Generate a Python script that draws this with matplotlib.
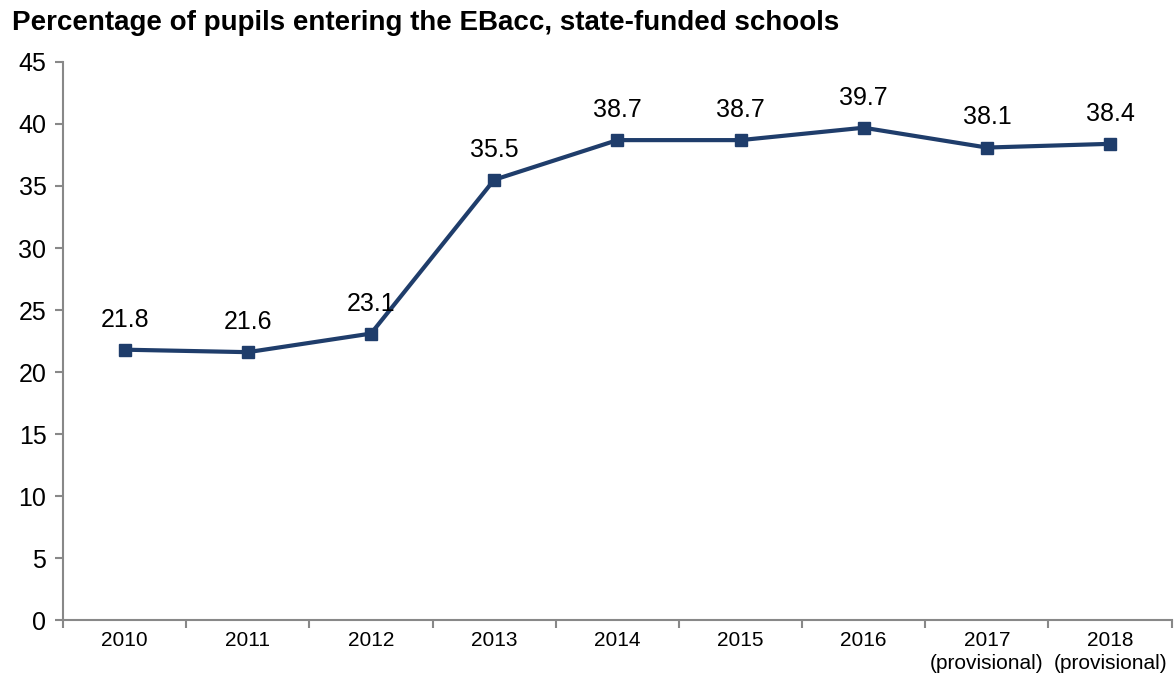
import numpy as np
import matplotlib.pyplot as plt

plt.rcParams['font.family'] = ['Liberation Sans', 'DejaVu Sans']

# EBacc entry rates, state-funded schools
years = ['2010', '2011', '2012', '2013', '2014', '2015', '2016',
         '2017\n(provisional)', '2018\n(provisional)']
pct_entering = [21.8, 21.6, 23.1, 35.5, 38.7, 38.7, 39.7, 38.1, 38.4]

line_col = '#1f3d6b'
axis_col = '#888888'

fig = plt.figure(figsize=(11.74, 6.76), dpi=100)
ax = fig.add_axes([0.0537, 0.0828, 0.9443, 0.8255])

x = np.arange(len(years))
ax.plot(x, pct_entering, color=line_col, lw=3, marker='s', ms=9,
        markerfacecolor=line_col, markeredgecolor=line_col, zorder=3)

for xi, v in zip(x, pct_entering):
    ax.annotate(f'{v:.1f}', (xi, v), xytext=(0, 13), textcoords='offset points',
                ha='center', va='bottom', fontsize=18, color='black')

ax.set_xlim(-0.5, len(years) - 0.5)
ax.set_ylim(0, 45)
ax.set_yticks(np.arange(0, 46, 5))
ax.tick_params(axis='y', labelsize=18, length=6, width=1.5, color=axis_col, pad=6)

# category labels centred, tick marks between categories
ax.set_xticks(x)
ax.set_xticklabels(years, fontsize=15, linespacing=1.25)
ax.tick_params(axis='x', length=0, pad=8)
ax.set_xticks(np.arange(-0.5, len(years), 1), minor=True)
ax.tick_params(axis='x', which='minor', length=6, width=1.5, color=axis_col)

for side in ['top', 'right']:
    ax.spines[side].set_visible(False)
for side in ['left', 'bottom']:
    ax.spines[side].set_color(axis_col)
    ax.spines[side].set_linewidth(1.5)

fig.text(0.0102, 0.955, 'Percentage of pupils entering the EBacc, state-funded schools',
         fontsize=20, fontweight='bold', ha='left', va='baseline')

fig.savefig('out.png', dpi=100)
